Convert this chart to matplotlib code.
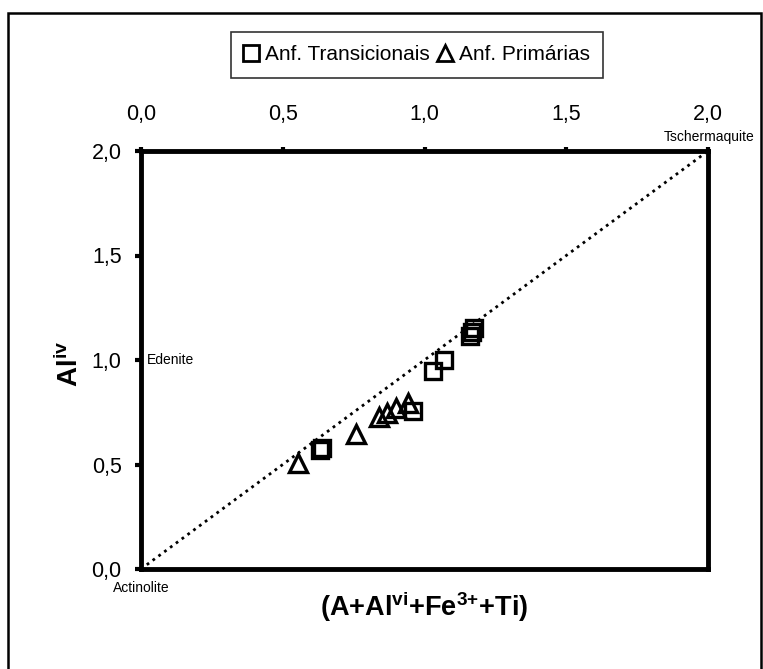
import matplotlib
matplotlib.use("Agg")
import matplotlib.pyplot as plt
from matplotlib.lines import Line2D
from matplotlib.patches import Rectangle

plt.rcParams['font.family'] = ['Liberation Sans', 'DejaVu Sans']
plt.rcParams['mathtext.fontset'] = 'custom'
plt.rcParams['mathtext.rm'] = 'Liberation Sans'
plt.rcParams['mathtext.bf'] = 'Liberation Sans:bold'
plt.rcParams['mathtext.default'] = 'bf'

# Data
trans_x = [0.630, 0.638, 0.958, 1.031, 1.069, 1.160, 1.168, 1.175]
trans_y = [0.570, 0.578, 0.757, 0.949, 1.000, 1.115, 1.135, 1.155]
prim_x = [0.555, 0.757, 0.841, 0.867, 0.898, 0.943]
prim_y = [0.506, 0.646, 0.726, 0.745, 0.769, 0.796]

line_x = [0.0, 2.0]
line_y = [0.0, 2.0]

tick_vals = [0.0, 0.5, 1.0, 1.5, 2.0]
tick_labels = ["0,0", "0,5", "1,0", "1,5", "2,0"]

W, H = 763, 669
fig = plt.figure(figsize=(W / 100, H / 100), dpi=100)
ax = fig.add_axes([141 / W, 1 - 569 / H, (708 - 141) / W, (569 - 151) / H])

ax.plot(line_x, line_y, color='black', linestyle=(0, (1, 1.6)), lw=2.0,
        clip_on=False, zorder=2)
ax.plot(trans_x, trans_y, linestyle='none', marker='s', ms=12, mfc='none',
        mec='black', mew=2.4, zorder=3)
ax.plot(prim_x, prim_y, linestyle='none', marker='^', ms=13, mfc='none',
        mec='black', mew=2.4, zorder=3)

ax.set_xlim(0, 2)
ax.set_ylim(0, 2)
for s in ax.spines.values():
    s.set_linewidth(3.5)
    s.set_color('black')

ax.xaxis.tick_top()
ax.set_xticks(tick_vals)
ax.set_xticklabels(tick_labels)
ax.set_yticks(tick_vals)
ax.set_yticklabels(tick_labels)
ax.tick_params(axis='x', direction='out', length=3, width=3, pad=16,
               labelsize=15.5, top=True, bottom=False)
ax.tick_params(axis='y', direction='out', length=4, width=3, pad=10,
               labelsize=15.5, left=True, right=False)

ax.set_xlabel(r"(A+Al$^{vi}$+Fe$^{3{+}}$+Ti)", fontsize=19.5,
              fontweight='bold')
ax.xaxis.set_label_position('bottom')
ax.xaxis.set_label_coords(0.5, -0.05)
ax.set_ylabel(r"Al$^{iv}$", fontsize=20, fontweight='bold')
ax.yaxis.set_label_coords(-0.1, 0.49)

fs_small = 10
ax.text(0.02, 1.0, "Edenite", fontsize=fs_small, ha='left', va='center')
ax.text(0.0, -0.09, "Actinolite", fontsize=fs_small, ha='center', va='center')
ax.text(2.005, 2.065, "Tschermaquite", fontsize=fs_small, ha='center',
        va='center', clip_on=False)

# legend
handles = [Line2D([], [], linestyle='none', marker='s', ms=11, mfc='none',
                  mec='black', mew=2),
           Line2D([], [], linestyle='none', marker='^', ms=12, mfc='none',
                  mec='black', mew=2)]
leg = fig.legend(handles, ["Anf. Transicionais", "Anf. Primárias"], ncol=2,
                 loc='center', bbox_to_anchor=(417 / W, 1 - 55 / H),
                 fontsize=15, frameon=True, fancybox=False,
                 handlelength=0.7, handletextpad=0.3, columnspacing=0.4,
                 borderpad=0.65, edgecolor='black')
leg.get_frame().set_linewidth(1.2)

# outer frame
fig.patches.append(Rectangle((8 / W, -0.01), (761 - 8) / W, 1 - 13 / H + 0.01,
                             transform=fig.transFigure, fill=False,
                             edgecolor='black', lw=1.8))

fig.savefig("out.png", dpi=100)
